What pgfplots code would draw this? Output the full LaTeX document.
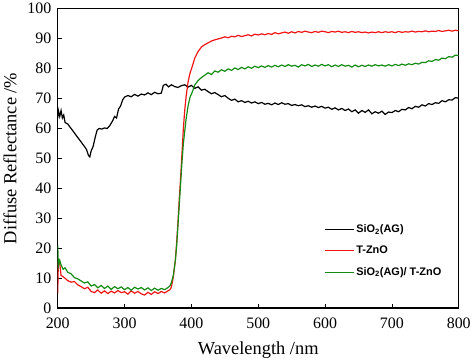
\documentclass[border=0pt]{standalone}
\usepackage{pgfplots}
\pgfplotsset{compat=1.18}
\usepackage{fontspec}
\setmainfont{Liberation Serif}
\newfontfamily\legfont{Liberation Sans}
\definecolor{cred}{RGB}{240,20,20}
\definecolor{cgreen}{RGB}{20,140,20}
\begin{document}
\begin{tikzpicture}
\begin{axis}[
  scale only axis,
  width=403pt, height=301pt,
  xmin=200, xmax=800, ymin=0, ymax=100,
  xtick={200,300,...,800}, ytick={0,10,...,100},
  tick pos=left, tick align=inside,
  major tick length=4pt,
  axis line style={line width=1.5pt},
  every tick/.style={black, line width=0.6pt},
  /pgf/number format/assume math mode=true,
  ticklabel style={font=\fontsize{16}{18}\selectfont},
  xticklabel style={yshift=-6pt},
  yticklabel style={xshift=-3pt},
  label style={font=\fontsize{18.5}{21}\selectfont},
  xlabel={Wavelength /nm},
  ylabel={Diffuse Reflectance /\%},
  xlabel style={yshift=-6pt},
  ylabel style={yshift=4pt},
  legend style={draw=none, fill=none, at={(0.657,0.292)}, anchor=north west,
    font=\legfont\bfseries\fontsize{11}{13}\selectfont, row sep=8pt},
  legend cell align=left,
  legend image code/.code={\draw[#1, line width=1.1pt] (0pt,0pt) -- (29pt,0pt);},
]
\addplot[black, line width=1.2pt] coordinates {
(200,63.5)(201,66)(203,64)(205,66)(207,63.5)(209,64.5)(211,62)(215,61.5)(220,60)(225,58.5)
(230,57)(235,55.5)(240,54)(243,53)(246,51)(248,50.5)(250,52.5)(253,54)(256,57)(259,59.5)
(262,60)(266,59.8)(270,60.2)(274,60)(278,61)(282,62.5)(285,64)(288,63.5)(291,66.5)(294,67.5)
(297,69.5)(300,70.5)(305,71)(310,70.6)(315,71.4)(320,70.8)(325,71.5)(330,71.2)(335,71.9)(340,71.3)
(345,72.1)(350,71.6)(355,71.8)(358,74.4)(362,74.8)(366,73.9)(370,74.6)(375,74)(380,73.7)(385,74.3)
(390,74.6)(395,73.8)(400,74.4)(405,73.4)(410,73.9)(415,72.8)(420,73.1)(425,72.3)(430,71.6)(435,72)
(440,71.3)(445,70.6)(450,71)(455,70.1)(460,69.4)(465,69.8)(470,68.9)(475,69.3)(480,68.7)(485,69.1)
(490,68.5)(495,68.9)(500,68.3)(505,68.7)(510,68.1)(515,68.4)(520,67.9)(525,68.5)(530,68)(535,68.6)
(540,68.1)(545,68.3)(550,67.7)(555,68)(560,67.6)(565,67.9)(570,67.3)(575,67.6)(580,67.1)(585,67.5)
(590,67)(595,67.4)(600,66.8)(605,67.1)(610,66.4)(615,66.9)(620,66.2)(625,66.7)(630,66)(635,66.5)
(640,65.6)(645,66.2)(650,65.1)(655,66)(660,65.4)(665,66.2)(670,64.9)(675,65.6)(680,65.1)(685,65.8)
(690,64.7)(695,65.5)(700,65.3)(705,66)(710,65.6)(715,66.4)(720,66.2)(725,67)(730,66.6)(735,67.4)
(740,67.1)(745,67.9)(750,67.5)(755,68.3)(760,68)(765,68.6)(770,68.4)(775,69.3)(780,68.9)(785,69.6)
(790,69.5)(795,70.3)(800,70.1)};
\addlegendentry{SiO\textsubscript{2}(AG)}
\addplot[cred, line width=1.2pt] coordinates {
(200,5)(201,16)(203,15)(205,11)(208,10.5)(211,10)(215,9.2)(220,8.7)(225,8.9)(230,7.8)
(235,7.2)(240,6.5)(245,7.0)(250,5.6)(255,5.2)(260,6.1)(265,5.0)(270,5.8)(275,4.9)(280,5.7)
(285,5.1)(290,5.9)(295,5.2)(300,5.5)(305,4.7)(310,5.8)(315,5.0)(320,5.6)(325,4.8)(330,4.4)
(335,5.3)(340,4.6)(345,5.5)(350,4.9)(355,5.6)(360,5.1)(365,5.8)(368,6.2)(370,7)(373,10.5)
(376,16)(378,22)(380,29)(382,37)(384,44)(386,52)(388,60)(390,66)(392,70.5)(395,75.5)
(398,78.5)(401,80.5)(405,83.5)(410,85.7)(415,87.2)(420,88)(425,88.6)(430,89.2)(435,89.6)(440,89.9)
(445,90.2)(450,90.6)(455,90.3)(460,90.8)(465,90.6)(470,91.1)(475,90.7)(480,91.0)(485,91.3)(490,90.9)
(495,91.5)(500,91.2)(505,91.6)(510,91.3)(515,91.7)(520,91.4)(525,92)(530,91.6)(535,91.9)(540,92.2)
(545,91.8)(550,92.3)(555,91.9)(560,92.4)(565,92.1)(570,92.5)(575,92.2)(580,92)(585,92.4)(590,92.1)
(595,92.5)(600,92.3)(605,92)(610,92.4)(615,92.2)(620,92.5)(625,92.1)(630,92.3)(635,92)(640,92.4)
(645,92.1)(650,92.3)(655,92)(660,92.2)(665,91.9)(670,92.2)(675,92)(680,92.3)(685,92)(690,92.3)
(695,92.1)(700,92.3)(705,92)(710,92.4)(715,92.1)(720,92.3)(725,92.2)(730,92.5)(735,92.2)(740,92.4)
(745,92.3)(750,92.6)(755,92.3)(760,92.5)(765,92.4)(770,92.7)(775,92.4)(780,92.6)(785,92.8)(790,92.5)
(795,92.8)(800,92.6)};
\addlegendentry{T-ZnO}
\addplot[cgreen, line width=1.2pt] coordinates {
(200,21)(201,14)(203,16)(205,14.5)(208,13)(211,13.5)(215,12)(220,11.5)(225,10.2)(230,9.8)
(235,9.1)(240,8.4)(245,8.8)(250,7.4)(255,7.9)(260,6.8)(265,7.6)(270,6.6)(275,7.4)(280,6.3)
(285,7.2)(290,6.5)(295,7.1)(300,6.2)(305,6.9)(310,6.0)(315,7.0)(320,6.4)(325,6.9)(330,6.1)
(335,6.8)(340,5.9)(345,6.7)(350,6.0)(355,6.6)(360,6.2)(365,6.9)(368,7.5)(370,8.5)(373,11)
(376,16)(378,21)(380,28)(382,35)(384,42)(386,49)(388,55)(390,59)(392,63)(395,67.5)
(398,70.5)(401,72)(405,74.5)(410,76)(415,77)(420,77.8)(425,78.6)(430,78)(435,79.2)(440,78.8)
(445,79.6)(450,79.1)(455,79.9)(460,79.4)(465,80.2)(470,79.7)(475,80.4)(480,79.9)(485,80.6)(490,80.1)
(495,80.8)(500,80.3)(505,80.9)(510,80.4)(515,81)(520,80.5)(525,81.1)(530,80.6)(535,81.2)(540,80.7)
(545,81.3)(550,80.8)(555,81.1)(560,80.5)(565,81.3)(570,80.9)(575,81.4)(580,80.7)(585,81.2)(590,80.8)
(595,81.4)(600,80.9)(605,81.3)(610,80.6)(615,81.2)(620,80.7)(625,81.3)(630,80.8)(635,81.1)(640,80.5)
(645,81.2)(650,80.6)(655,81.1)(660,80.7)(665,81.2)(670,80.8)(675,81.3)(680,80.9)(685,81.2)(690,80.8)
(695,81.3)(700,80.9)(705,81.4)(710,81)(715,81.5)(720,81.1)(725,81.6)(730,81.3)(735,81.8)(740,81.5)
(745,82.1)(750,82)(755,82.6)(760,82.4)(765,83)(770,82.8)(775,83.5)(780,83.3)(785,84)(790,83.8)
(795,84.5)(800,84.3)};
\addlegendentry{SiO\textsubscript{2}(AG)/ T-ZnO}
\end{axis}
\end{tikzpicture}
\end{document}
